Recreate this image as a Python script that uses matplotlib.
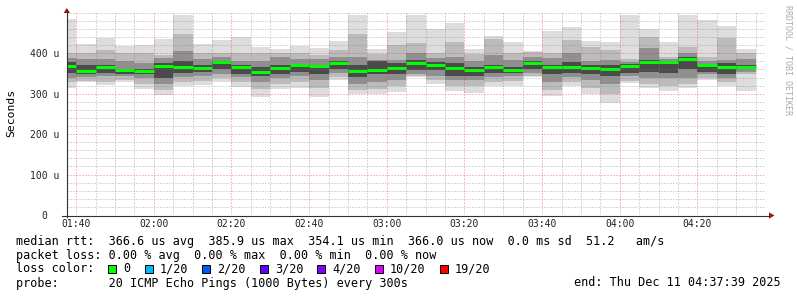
import matplotlib
matplotlib.use("Agg")
from matplotlib import pyplot as plt
from matplotlib.patches import Polygon, Rectangle
from matplotlib.lines import Line2D

W, H = 797, 297
MONO = "DejaVu Sans Mono"

# end time of every 5 min step (rrd step 300s)
bar_end = ["01:40", "01:45", "01:50", "01:55", "02:00", "02:05", "02:10", "02:15", "02:20",
	"02:25", "02:30", "02:35", "02:40", "02:45", "02:50", "02:55", "03:00", "03:05",
	"03:10", "03:15", "03:20", "03:25", "03:30", "03:35", "03:40", "03:45", "03:50",
	"03:55", "04:00", "04:05", "04:10", "04:15", "04:20", "04:25", "04:30", "04:35"]

# median rtt in microseconds
median = [369, 357, 365, 358, 357, 368, 367, 364, 378, 365, 355, 364, 371, 368, 376, 356, 358, 364,
	377, 370, 363, 359, 365, 359, 376, 365, 365, 364, 361, 369, 378, 379, 387, 370, 367, 367]

# smoke bands, outer (lightest) to inner (darkest)
smoke_lo = [313, 328, 321, 328, 312, 298, 318, 322, 328, 316, 292, 311, 314, 293, 335, 299, 299, 305,
	341, 323, 308, 303, 318, 320, 341, 295, 319, 300, 276, 326, 313, 307, 315, 333, 320, 308]
smoke_hi = [485, 423, 439, 418, 421, 436, 495, 423, 433, 441, 416, 411, 418, 414, 430, 496, 410, 453,
	496, 460, 476, 410, 443, 427, 406, 454, 465, 430, 427, 496, 460, 427, 496, 483, 467, 410]
band2_lo = [328, 332, 330, 335, 325, 310, 330, 332, 338, 328, 312, 325, 330, 315, 342, 310, 312, 318,
	343, 335, 320, 318, 330, 332, 345, 310, 330, 315, 300, 332, 325, 320, 325, 340, 330, 348]
band2_hi = [400, 400, 408, 400, 400, 396, 448, 400, 400, 400, 400, 402, 400, 396, 408, 449, 398, 420,
	425, 400, 428, 398, 435, 400, 403, 400, 433, 416, 408, 386, 441, 392, 416, 392, 437, 400]
band3_lo = [340, 342, 343, 343, 338, 325, 342, 345, 350, 342, 330, 340, 343, 335, 352, 325, 330, 335,
	350, 345, 335, 335, 342, 345, 352, 330, 342, 335, 325, 343, 340, 340, 340, 348, 340, 354]
band3_hi = [388, 385, 386, 380, 375, 388, 405, 385, 390, 380, 380, 392, 385, 385, 392, 392, 383, 384,
	400, 388, 392, 380, 395, 384, 392, 388, 400, 382, 384, 378, 412, 386, 400, 380, 384, 385]
band4_lo = [352, 350, 351, 350, 348, 340, 352, 355, 360, 350, 343, 348, 355, 350, 362, 342, 350, 350,
	358, 358, 345, 345, 352, 352, 362, 350, 352, 350, 345, 352, 355, 352, 360, 355, 350, 360]
band4_hi = [378, 370, 372, 362, 362, 376, 380, 370, 382, 370, 365, 372, 372, 372, 382, 372, 380, 376,
	384, 378, 376, 367, 372, 365, 380, 372, 378, 372, 370, 374, 384, 380, 392, 372, 376, 372]

band_colors = ["#dddddd", "#bbbbbb", "#8f8f8f", "#4a4a4a"]

x_ticks = ["01:40", "02:00", "02:20", "02:40", "03:00", "03:20", "03:40", "04:00", "04:20"]
y_ticks = [0, 100, 200, 300, 400]
y_labels = ["0", "100 u", "200 u", "300 u", "400 u"]
start_time = "01:37:39"
end_time = "04:37:39"

loss_labels = ["0", "1/20", "2/20", "3/20", "4/20", "10/20", "19/20"]
loss_colors = ["#00ff00", "#00b8ff", "#0059ff", "#5e00ff", "#7e00ff", "#dd00ff", "#ff0000"]

line_rtt = "median rtt:  366.6 us avg  385.9 us max  354.1 us min  366.0 us now  0.0 ms sd  51.2   am/s"
line_loss = "packet loss: 0.00 % avg  0.00 % max  0.00 % min  0.00 % now"
line_probe = "probe:       20 ICMP Echo Pings (1000 Bytes) every 300s"
line_end = "end: Thu Dec 11 04:37:39 2025"


def minutes(s):
	p = [int(v) for v in s.split(":")]
	m = p[0] * 60 + p[1]
	if len(p) > 2:
		m += p[2] / 60.0
	return m

def fx(px):
	return px / W

def fy(py):
	return 1 - py / H

def grid_line(horizontal, v, major):
	if major:
		c, a = "#e02020", 0.55
	else:
		c, a = "#808080", 0.62
	f = ax.axhline if horizontal else ax.axvline
	f(v, color=c, alpha=a, lw=0.72, ls=(0, (1, 2)), zorder=7)


fig = plt.figure(figsize=(W / 100, H / 100), dpi=100)
fig.patch.set_facecolor("white")

ax_left, ax_right, ax_bottom, ax_top = 67, 766, 215, 12.9
ax = fig.add_axes([fx(ax_left), fy(ax_bottom), (ax_right - ax_left) / W, (ax_bottom - ax_top) / H])
t0, t1 = minutes(start_time), minutes(end_time)
ax.set_xlim(t0, t1)
ax.set_ylim(0, 500)
for s in ax.spines.values():
	s.set_visible(False)

t_end = [minutes(t) for t in bar_end]
bands = [(smoke_lo, smoke_hi), (band2_lo, band2_hi), (band3_lo, band3_hi), (band4_lo, band4_hi)]
for i, (lo, hi) in enumerate(bands):
	ax.bar([t - 5 for t in t_end], [h - l for l, h in zip(lo, hi)], width=5, bottom=lo,
		align="edge", color=band_colors[i], linewidth=0, zorder=1 + i)
ax.hlines(median, [t - 5 for t in t_end], t_end, colors="#00ff00", linewidth=2.2, zorder=6)

# grid, rrdtool style (drawn over the smoke)
for v in range(20, 501, 20):
	grid_line(True, v, v % 100 == 0 and v < 500)
major_x = [minutes(t) for t in x_ticks]
m = 100
while m <= t1:
	grid_line(False, m, m in major_x)
	m += 5

ax.set_xticks(major_x)
ax.set_xticklabels(x_ticks, fontsize=7, family=MONO, color="#222222")
ax.set_yticks(y_ticks)
ax.set_yticklabels(y_labels, fontsize=7, family=MONO, color="#222222")
ax.tick_params(axis="both", length=0)
ax.tick_params(axis="x", pad=3)
ax.tick_params(axis="y", pad=(ax_left - 44.5) * 0.72)
for lab in ax.get_yticklabels():
	lab.set_ha("center")

# axes with arrows
axis_c, arrow_c = "#303030", "#a01515"
fig.add_artist(Line2D([fx(66.5), fx(66.5)], [fy(217), fy(10)], color=axis_c, lw=0.8))
fig.add_artist(Line2D([fx(62), fx(769)], [fy(215.5), fy(215.5)], color=axis_c, lw=0.8))
fig.add_artist(Polygon([(fx(66.8), fy(8)), (fx(63.6), fy(13)), (fx(70), fy(13))], closed=True,
	facecolor=arrow_c, edgecolor="none"))
fig.add_artist(Polygon([(fx(774.5), fy(215.5)), (fx(769), fy(212.3)), (fx(769), fy(218.7))], closed=True,
	facecolor=arrow_c, edgecolor="none"))

fig.text(fx(11), fy(113), "Seconds", rotation=90, ha="center", va="center", fontsize=8.2, family=MONO)
fig.text(fx(788), fy(5), "RRDTOOL / TOBI OETIKER", rotation=270, ha="center", va="top",
	fontsize=6, family=MONO, color="#aaaaaa")

# legend block
cw = 7.1
fig.text(fx(16), fy(241), line_rtt, va="center", fontsize=8.5, family=MONO)
fig.text(fx(16), fy(255), line_loss, va="center", fontsize=8.5, family=MONO)
fig.text(fx(16), fy(269), "loss color:", va="center", fontsize=8.5, family=MONO)
bx = 16 + 13 * cw
for lab, col in zip(loss_labels, loss_colors):
	fig.add_artist(Rectangle((fx(bx), fy(273.3)), 8 / W, 8.5 / H, facecolor=col, edgecolor="black", lw=0.7))
	fig.text(fx(bx + 15), fy(269), lab, va="center", fontsize=8.5, family=MONO)
	bx = bx + 15 + (len(lab) + 2) * cw
fig.text(fx(16), fy(283), line_probe, va="center", fontsize=8.5, family=MONO)
fig.text(fx(781), fy(283), line_end, ha="right", va="center", fontsize=8.5, family=MONO)

fig.savefig("out.png", dpi=100, facecolor="white")
